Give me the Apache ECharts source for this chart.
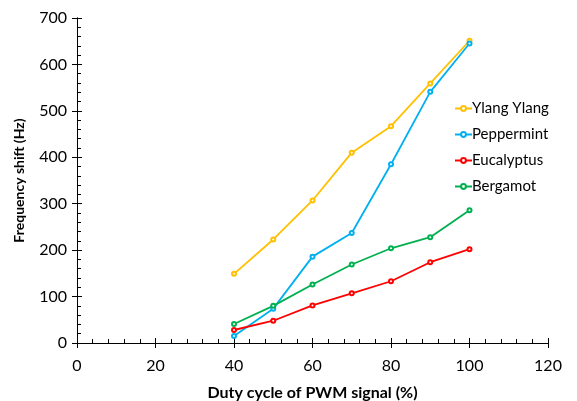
<!DOCTYPE html>
<html>
<head>
<meta charset="utf-8">
<script src="https://cdn.jsdelivr.net/npm/echarts@6/dist/echarts.min.js"></script>
<style>
  html, body { margin: 0; padding: 0; background: #fff; }
  #chart { width: 577px; height: 401px; }
</style>
</head>
<body>
<div id="chart"></div>
<script>
// duty cycle (%)
const dutyCycle = [40, 50, 60, 70, 80, 90, 100];
// frequency shift (Hz) per oil
const ylangYlang = [149, 223, 307, 410, 467, 559, 651];
const peppermint = [15, 74, 186, 237, 385, 541, 645];
const eucalyptus = [28, 48, 81, 107, 133, 174, 202];
const bergamot = [41, 80, 126, 169, 204, 228, 286];

const seriesNames = ['Ylang Ylang', 'Peppermint', 'Eucalyptus', 'Bergamot'];
const seriesValues = [ylangYlang, peppermint, eucalyptus, bergamot];
const colors = ['#FFC000', '#00B0F0', '#FF0000', '#00B050'];

const font = 'Lato, "Open Sans", sans-serif';
const chart = echarts.init(document.getElementById('chart'));

const baseAxis = {
  type: 'value',
  axisLine: { show: true, lineStyle: { color: '#000', width: 1 } },
  splitLine: { show: false }
};

const option = {
  animation: false,
  grid: { left: 77, top: 18, right: 29, bottom: 58, containLabel: false, outerBoundsMode: 'none' },
  legend: {
    orient: 'vertical',
    left: 449,
    top: 96,
    itemWidth: 17,
    itemHeight: 6,
    itemGap: 11,
    textStyle: { fontFamily: font, fontSize: 15, color: '#000', padding: [0, 0, 0, -5] },
    data: seriesNames
  },
  xAxis: [
    Object.assign({}, baseAxis, {
      min: 0, max: 120, interval: 20,
      name: 'Duty cycle of PWM signal (%)',
      nameLocation: 'middle',
      nameGap: 42,
      nameTextStyle: { fontFamily: font, fontSize: 16, fontWeight: 'bold', color: '#000' },
      axisTick: { show: true, inside: false, length: 5, lineStyle: { color: '#000' } },
      axisLabel: { fontFamily: font, fontSize: 16, color: '#000', margin: 15 }
    }),
    // overlay axis for the inside ticks
    Object.assign({}, baseAxis, {
      min: 0, max: 120, interval: 20, position: 'bottom',
      axisTick: { show: true, inside: true, length: 5, lineStyle: { color: '#000' } },
      minorTick: { show: true, splitNumber: 5, length: 4, lineStyle: { color: '#000' } },
      axisLabel: { show: false }
    })
  ],
  yAxis: [
    Object.assign({}, baseAxis, {
      min: 0, max: 700, interval: 100,
      name: 'Frequency shift (Hz)',
      nameLocation: 'middle',
      nameGap: 51,
      nameTextStyle: { fontFamily: font, fontSize: 14, fontWeight: 'bold', color: '#000' },
      axisTick: { show: true, inside: false, length: 5, lineStyle: { color: '#000' } },
      axisLabel: { fontFamily: font, fontSize: 16, color: '#000', margin: 10 }
    }),
    Object.assign({}, baseAxis, {
      min: 0, max: 700, interval: 100, position: 'left',
      axisTick: { show: true, inside: true, length: 5, lineStyle: { color: '#000' } },
      minorTick: { show: true, splitNumber: 5, length: 4, lineStyle: { color: '#000' } },
      axisLabel: { show: false }
    })
  ],
  series: seriesNames.map((name, i) => ({
    name: name,
    type: 'line',
    xAxisIndex: 0,
    yAxisIndex: 0,
    data: dutyCycle.map((x, j) => [x, seriesValues[i][j]]),
    symbol: 'emptyCircle',
    symbolSize: 4,
    lineStyle: { color: colors[i], width: 1.8 },
    itemStyle: { color: colors[i], borderWidth: 1 }
  }))
};

chart.setOption(option);
</script>
</body>
</html>
